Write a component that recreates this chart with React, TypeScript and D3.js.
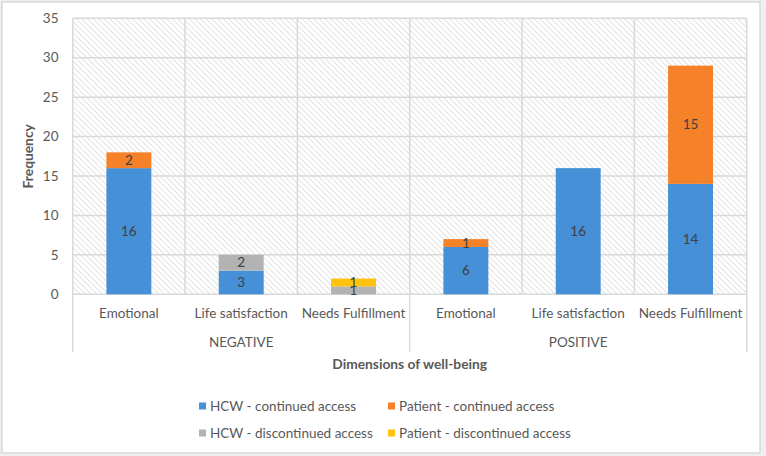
import React from "react";
import * as d3 from "d3";

const groups = ["NEGATIVE", "POSITIVE"];
const subcats = ["Emotional", "Life satisfaction", "Needs Fulfillment"];
const seriesNames = [
  "HCW - continued access",
  "Patient - continued access",
  "HCW - discontinued access",
  "Patient - discontinued access",
];
const hcwContinued = [16, 3, 0, 6, 16, 14];
const patientContinued = [2, 0, 0, 1, 0, 15];
const hcwDiscontinued = [0, 2, 1, 0, 0, 0];
const patientDiscontinued = [0, 0, 1, 0, 0, 0];
const yTicks = [0, 5, 10, 15, 20, 25, 30, 35];
const colors = ["#4590d6", "#f58229", "#b3b3b3", "#ffc20e"];

const W = 766;
const H = 456;
const left = 72.7;
const right = 746.7;
const top = 18.3;
const bottom = 294.3;
const FONT = "Lato, 'Open Sans', sans-serif";

export default function App() {
  const categories = groups.flatMap((g) => subcats.map((s) => `${g}|${s}`));
  const x = d3.scaleBand().domain(categories).range([left, right]).paddingInner(0).paddingOuter(0);
  const y = d3.scaleLinear().domain([0, 35]).range([bottom, top]);
  const barW = x.bandwidth() * 0.4;

  const rows = categories.map((c, i) => ({
    key: c,
    s0: hcwContinued[i],
    s1: patientContinued[i],
    s2: hcwDiscontinued[i],
    s3: patientDiscontinued[i],
  }));
  const stack = d3.stack<any>().keys(["s0", "s1", "s2", "s3"]);
  const stacked = stack(rows);

  const groupW = x.bandwidth() * subcats.length;

  return (
    <svg width={W} height={H} style={{ position: "fixed", left: 0, top: 0 }}>
      <defs>
        <pattern id="hatch" width="4" height="4" patternUnits="userSpaceOnUse" patternTransform="rotate(-45)">
          <rect width="4" height="4" fill="#ffffff" />
          <line x1="0" y1="0" x2="0" y2="4" stroke="#cfcfcf" strokeWidth="1.2" />
        </pattern>
      </defs>
      <rect x={0} y={0} width={W} height={H} fill="#efefef" />
      <rect x={2} y={2} width={758} height={451} fill="#ffffff" stroke="#d9d9d9" strokeWidth={1.5} />
      <rect x={left} y={top} width={right - left} height={bottom - top} fill="url(#hatch)" />
      {yTicks.map((t) => (
        <line key={t} x1={left} x2={right} y1={y(t)} y2={y(t)} stroke="#d9d9d9" strokeWidth={1.5} />
      ))}
      {categories.map((c) => (
        <line key={c} x1={x(c)!} x2={x(c)!} y1={top} y2={bottom} stroke="#d9d9d9" strokeWidth={1.5} />
      ))}
      <line x1={right} x2={right} y1={top} y2={bottom} stroke="#d9d9d9" strokeWidth={1.5} />
      {[0, 1, 2].map((i) => (
        <line key={i} x1={left + i * groupW} x2={left + i * groupW} y1={bottom} y2={352} stroke="#d9d9d9" strokeWidth={1.5} />
      ))}
      {yTicks.map((t) => (
        <text key={t} x={58.5} y={y(t)} dy="0.35em" textAnchor="end" fontFamily={FONT} fontSize={13.5} fill="#595959">
          {t}
        </text>
      ))}
      <text transform={`translate(33,${(top + bottom) / 2}) rotate(-90)`} textAnchor="middle" fontFamily={FONT} fontSize={13.8} fontWeight="bold" fill="#595959">
        Frequency
      </text>
      {stacked.map((layer, si) =>
        layer.map((d, i) => {
          const v = d[1] - d[0];
          if (v <= 0) return null;
          const cx = x(categories[i])! + x.bandwidth() / 2;
          return (
            <g key={`${si}-${i}`}>
              <rect x={cx - barW / 2} y={y(d[1])} width={barW} height={y(d[0]) - y(d[1])} fill={colors[si]} />
              <text x={cx} y={(y(d[0]) + y(d[1])) / 2} dy="0.35em" textAnchor="middle" fontFamily={FONT} fontSize={13.5} fill="#404040">
                {v}
              </text>
            </g>
          );
        })
      )}
      {categories.map((c) => (
        <text key={c} x={x(c)! + x.bandwidth() / 2} y={313} dy="0.35em" textAnchor="middle" fontFamily={FONT} fontSize={13.5} fill="#595959">
          {c.split("|")[1]}
        </text>
      ))}
      {groups.map((g, gi) => (
        <text key={g} x={left + gi * groupW + groupW / 2} y={342} dy="0.35em" textAnchor="middle" fontFamily={FONT} fontSize={13.5} fill="#595959">
          {g}
        </text>
      ))}
      <text x={(left + right) / 2} y={364} dy="0.35em" textAnchor="middle" fontFamily={FONT} fontSize={13.8} fontWeight="bold" fill="#595959">
        Dimensions of well-being
      </text>
      {seriesNames.map((s, i) => {
        const col = i % 2;
        const row = Math.floor(i / 2);
        const lx = col === 0 ? 199 : 388;
        const ly = row === 0 ? 406 : 433;
        return (
          <g key={s}>
            <rect x={lx} y={ly - 3.5} width={7} height={7} fill={colors[i]} />
            <text x={lx + 11} y={ly} dy="0.35em" fontFamily={FONT} fontSize={13.5} fill="#595959">
              {s}
            </text>
          </g>
        );
      })}
    </svg>
  );
}
